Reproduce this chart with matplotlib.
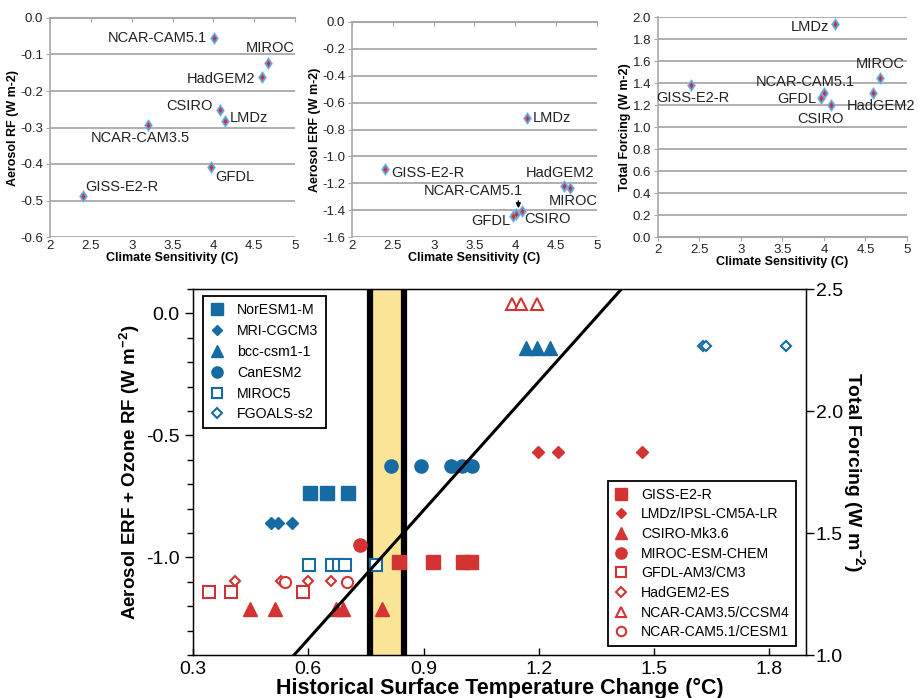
import matplotlib
matplotlib.use("Agg")
import matplotlib.pyplot as plt
from matplotlib.ticker import MultipleLocator, FuncFormatter, FixedLocator
from matplotlib.lines import Line2D

plt.rcParams['font.family'] = ['Liberation Sans', 'DejaVu Sans']
plt.rcParams['axes.unicode_minus'] = False
plt.rcParams['mathtext.default'] = 'regular'

# ---------------- top panels data ----------------
models_top = ["NCAR-CAM5.1", "MIROC", "HadGEM2", "CSIRO", "LMDz", "NCAR-CAM3.5", "GFDL", "GISS-E2-R"]
cs_rf = [4.01, 4.67, 4.60, 4.08, 4.14, 3.20, 3.97, 2.40]
aer_rf = [-0.055, -0.124, -0.162, -0.252, -0.281, -0.293, -0.408, -0.487]

models_erf = ["LMDz", "GISS-E2-R", "HadGEM2", "MIROC", "NCAR-CAM5.1", "GFDL", "CSIRO"]
cs_erf = [4.14, 2.40, 4.59, 4.67, 4.01, 3.97, 4.08]
aer_erf = [-0.712, -1.092, -1.221, -1.233, -1.427, -1.447, -1.407]

models_tot = ["LMDz", "MIROC", "HadGEM2", "NCAR-CAM5.1", "GFDL", "CSIRO", "GISS-E2-R"]
cs_tot = [4.13, 4.67, 4.59, 4.00, 3.96, 4.08, 2.40]
tot_f = [1.934, 1.45, 1.305, 1.305, 1.26, 1.20, 1.381]

# ---------------- main panel data ----------------
blue_labels = ["NorESM1-M", "MRI-CGCM3", "bcc-csm1-1", "CanESM2", "MIROC5", "FGOALS-s2"]
blue_x = [[0.605, 0.649, 0.704],
          [0.503, 0.521, 0.558],
          [1.167, 1.196, 1.230],
          [0.816, 0.894, 0.971, 0.999, 1.027],
          [0.602, 0.662, 0.680, 0.696, 0.777],
          [1.626, 1.636, 1.844]]
blue_y = [-0.735, -0.857, -0.14, -0.627, -1.033, -0.135]

red_labels = ["GISS-E2-R", "LMDz/IPSL-CM5A-LR", "CSIRO-Mk3.6", "MIROC-ESM-CHEM",
              "GFDL-AM3/CM3", "HadGEM2-ES", "NCAR-CAM3.5/CCSM4", "NCAR-CAM5.1/CESM1"]
red_x = [[0.836, 0.925, 1.003, 1.024],
         [1.198, 1.250, 1.467],
         [0.448, 0.514, 0.672, 0.691, 0.792],
         [0.735],
         [0.342, 0.399, 0.586],
         [0.409, 0.529, 0.599, 0.659],
         [1.131, 1.154, 1.196],
         [0.540, 0.701]]
red_y = [-1.02, -0.566, -1.21, -0.951, -1.143, -1.098, 0.04, -1.10]

obs_range = [0.76, 0.85]          # observed warming band (°C)
fit_x = [0.563, 1.415]            # black line end points
fit_y = [-1.4, 0.1]

BLUE = '#176ba3'
RED = '#d43333'
GRAY = '#a8a8a8'

fig = plt.figure(figsize=(9.2, 6.98), dpi=100)
W, H = 920, 698


def ax_px(l, t, r, b):
    return [l / W, 1 - b / H, (r - l) / W, (b - t) / H]


def top_panel(rect, xs, ys, names, ylim, ystep, ylabel, offsets, axis_top):
    ax = fig.add_axes(rect)
    ax.set_xlim(2, 5)
    ax.set_ylim(*ylim)
    ax.spines['right'].set_visible(False)
    ax.spines['left'].set_color(GRAY)
    ax.spines['left'].set_linewidth(1.2)
    if axis_top:
        ax.spines['bottom'].set_visible(False)
        ax.spines['top'].set_color(GRAY)
        ax.spines['top'].set_linewidth(1.5)
        ax.tick_params(axis='x', top=True, bottom=False, labelbottom=True, direction='in',
                       length=3, color=GRAY)
    else:
        ax.spines['top'].set_visible(False)
        ax.spines['bottom'].set_color(GRAY)
        ax.spines['bottom'].set_linewidth(1.5)
        ax.tick_params(axis='x', direction='out', length=3, color=GRAY)
    ax.xaxis.set_major_locator(MultipleLocator(0.5))
    ax.xaxis.set_major_formatter(FuncFormatter(lambda v, p: '%g' % v))
    ax.yaxis.set_major_locator(MultipleLocator(ystep))
    ax.yaxis.set_major_formatter(FuncFormatter(lambda v, p: '%.1f' % (0.0 if abs(v) < 1e-9 else v)))
    ax.tick_params(axis='y', direction='out', length=3, color=GRAY)
    ax.tick_params(labelsize=9.5, pad=2)
    ax.tick_params(axis='both', colors=GRAY, labelcolor='#222222')
    ax.yaxis.grid(True, color=GRAY, lw=1.3)
    ax.set_axisbelow(True)
    ax.set_xlabel('Climate Sensitivity (C)', fontsize=9, fontweight='bold', labelpad=0)
    ax.set_ylabel(ylabel, fontsize=9, fontweight='bold', labelpad=1)
    ax.plot(xs, ys, ls='none', marker='d', ms=6.5, mfc='#5b9bd5', mec='#8fbbe6', mew=0.5, zorder=3)
    ax.plot(xs, ys, ls='none', marker='d', ms=3, mfc='#e0262a', mec='none', zorder=4)
    for x, y, n in zip(xs, ys, names):
        if n in offsets:
            dx, dy, ha = offsets[n]
            ax.annotate(n, (x, y), xytext=(dx * 0.72, dy * 0.72), textcoords='offset points',
                        ha=ha, va='center', fontsize=10.5, color='#222222')
    return ax


off1 = {"NCAR-CAM5.1": (-7, 0, 'right'), "MIROC": (2, 15, 'center'), "HadGEM2": (-7, -2, 'right'),
        "CSIRO": (-7, 4, 'right'), "LMDz": (5, 3, 'left'), "NCAR-CAM3.5": (-8, -13, 'center'),
        "GFDL": (4, -10, 'left'), "GISS-E2-R": (3, 9, 'left')}
top_panel(ax_px(50, 18, 295, 237), cs_rf, aer_rf, models_top, (-0.6, 0.0), 0.1,
          'Aerosol RF (W m-2)', off1, True)

off2 = {"LMDz": (6, 0, 'left'), "GISS-E2-R": (7, -4, 'left'), "HadGEM2": (-4, 13, 'center'),
        "MIROC": (3, -13, 'center'), "GFDL": (-3, -5, 'right'), "CSIRO": (2, -8, 'left')}
ax2t = top_panel(ax_px(352, 22, 597, 237), cs_erf, aer_erf, models_erf, (-1.6, 0.0), 0.2,
                 'Aerosol ERF (W m-2)', off2, True)
i = models_erf.index("NCAR-CAM5.1")
ax2t.annotate("NCAR-CAM5.1", (cs_erf[i] + 0.03, aer_erf[i] + 0.02), xytext=(-45 * 0.72, 20 * 0.72),
              textcoords='offset points', ha='center', va='center', fontsize=10.5, color='#222222',
              arrowprops=dict(arrowstyle='-|>', color='black', lw=1.0, mutation_scale=7,
                              shrinkA=8, shrinkB=2, relpos=(0.95, 0.0)))

off3 = {"LMDz": (-6, -3, 'right'), "MIROC": (1, 13, 'center'), "HadGEM2": (8, -13, 'center'),
        "NCAR-CAM5.1": (-19, 11, 'center'), "GFDL": (-4, -1, 'right'), "CSIRO": (-10, -14, 'center'),
        "GISS-E2-R": (2, -13, 'center')}
top_panel(ax_px(658, 17, 907, 237), cs_tot, tot_f, models_tot, (0.0, 2.0), 0.2,
          'Total Forcing (W m-2)', off3, False)

# ---------------- main panel ----------------
ax = fig.add_axes(ax_px(193, 289, 806, 655))
ax.set_xlim(0.3, 1.895)
ax.set_ylim(-1.4, 0.1)

ax.axvspan(obs_range[0], obs_range[1], color='#fbe495', zorder=0, lw=0)
for xv in obs_range:
    ax.axvline(xv, color='black', lw=4.5, zorder=1)
ax.plot(fit_x, fit_y, color='black', lw=2.2, zorder=4)

blue_m = [dict(marker='s', ms=9.5, mfc=BLUE, mec=BLUE),
          dict(marker='D', ms=6.5, mfc=BLUE, mec=BLUE),
          dict(marker='^', ms=10, mfc=BLUE, mec=BLUE),
          dict(marker='o', ms=9.5, mfc=BLUE, mec=BLUE),
          dict(marker='s', ms=8, mfc='white', mec=BLUE, mew=1.5),
          dict(marker='D', ms=5.5, mfc='white', mec=BLUE, mew=1.5)]
red_m = [dict(marker='s', ms=9.5, mfc=RED, mec=RED),
         dict(marker='D', ms=6.5, mfc=RED, mec=RED),
         dict(marker='^', ms=10, mfc=RED, mec=RED),
         dict(marker='o', ms=9.5, mfc=RED, mec=RED),
         dict(marker='s', ms=8, mfc='white', mec=RED, mew=1.5),
         dict(marker='D', ms=5.5, mfc='white', mec=RED, mew=1.5),
         dict(marker='^', ms=8.5, mfc='white', mec=RED, mew=1.5),
         dict(marker='o', ms=8, mfc='white', mec=RED, mew=1.5)]

bh = []
for xs, y, lab, m in zip(blue_x, blue_y, blue_labels, blue_m):
    h, = ax.plot(xs, [y] * len(xs), ls='none', label=lab, zorder=3, **m)
    bh.append(h)
rh = []
for xs, y, lab, m in zip(red_x, red_y, red_labels, red_m):
    h, = ax.plot(xs, [y] * len(xs), ls='none', label=lab, zorder=3, **m)
    rh.append(h)


def small(h):
    return Line2D([], [], ls='none', marker=h.get_marker(), ms=h.get_markersize() * 0.85,
                  mfc=h.get_markerfacecolor(), mec=h.get_markeredgecolor(), mew=h.get_markeredgewidth())


leg1 = ax.legend([small(h) for h in bh], blue_labels, loc='upper left', bbox_to_anchor=(0.012, 0.988),
                 fontsize=10.2, frameon=True, fancybox=False, edgecolor='black', framealpha=1,
                 handlelength=1.0, handletextpad=0.9, labelspacing=0.48, borderpad=0.5, borderaxespad=0.2)
leg1.get_frame().set_linewidth(1.3)
ax.add_artist(leg1)
leg2 = ax.legend([small(h) for h in rh], red_labels, loc='lower right', bbox_to_anchor=(0.989, 0.018),
                 fontsize=10.2, frameon=True, fancybox=False, edgecolor='black', framealpha=1,
                 handlelength=1.0, handletextpad=0.9, labelspacing=0.4, borderpad=0.45, borderaxespad=0.2)
leg2.get_frame().set_linewidth(1.3)
leg2.set_zorder(5)
leg1.set_zorder(5)

ax.yaxis.set_major_locator(FixedLocator([-1.0, -0.5, 0.0]))
ax.yaxis.set_minor_locator(MultipleLocator(0.1))
ax.yaxis.set_major_formatter(FuncFormatter(lambda v, p: '%.1f' % (0.0 if abs(v) < 1e-9 else v)))
ax.xaxis.set_major_locator(FixedLocator([0.3, 0.6, 0.9, 1.2, 1.5, 1.8]))
ax.xaxis.set_major_formatter(FuncFormatter(lambda v, p: '%.1f' % v))
ax.tick_params(axis='y', which='major', direction='out', length=6, width=1, labelsize=14)
ax.tick_params(axis='y', which='minor', direction='out', length=4, width=1)
ax.tick_params(axis='x', which='major', direction='in', length=5, width=1, labelsize=14, pad=4)
for s in ax.spines.values():
    s.set_linewidth(1.0)
ax.set_xlabel('Historical Surface Temperature Change (°C)', fontsize=15.5, fontweight='bold', labelpad=0)
ax.set_ylabel('Aerosol ERF + Ozone RF (W m$^{-2}$)', fontsize=13.5, fontweight='bold', labelpad=3)

axr = ax.twinx()
axr.set_ylim(1.0, 2.5)
axr.yaxis.set_major_locator(FixedLocator([1.0, 1.5, 2.0, 2.5]))
axr.yaxis.set_major_formatter(FuncFormatter(lambda v, p: '%.1f' % v))
axr.tick_params(axis='y', direction='out', length=6, width=1, labelsize=14, pad=1)
axr.set_ylabel('Total Forcing (W m$^{-2}$)', fontsize=14, fontweight='bold', rotation=270, labelpad=17)

fig.savefig('out.png', dpi=100)
